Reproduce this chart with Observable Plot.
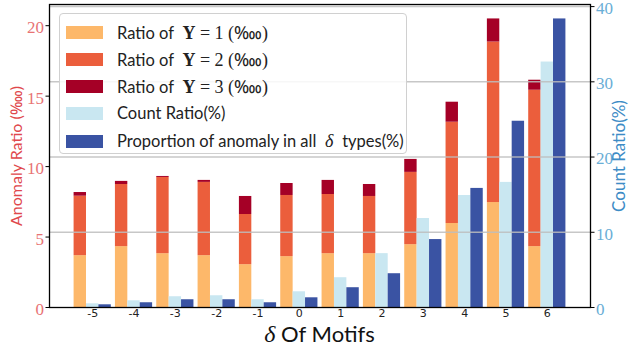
<!DOCTYPE html>
<html>
<head>
<meta charset="utf-8">
<script src="https://cdn.jsdelivr.net/npm/d3@7"></script>
<script src="https://cdn.jsdelivr.net/npm/@observablehq/plot@0.6"></script>
<style>
  body { margin: 0; background: #fff; }
  #wrap { position: relative; width: 629px; height: 347px; }
  #legend {
    position: absolute; left: 59px; top: 13px; width: 348px; height: 141px;
    border: 1px solid #d0d0d0; border-radius: 4px; background: rgba(255,255,255,0.85);
    box-sizing: border-box; font-family: Lato, sans-serif; font-size: 16.5px; color: #222;
  }
  .row { position: absolute; left: 6px; height: 20px; display: flex; align-items: center; white-space: nowrap; }
  .sw { width: 37px; height: 13px; margin-right: 14px; }
  .m { font-family: "Liberation Serif", serif; font-size: 18px; }
  .mb { font-family: "Liberation Serif", serif; font-weight: bold; font-size: 18px; }
  .mi { font-family: "Liberation Serif", serif; font-style: italic; font-size: 18px; }
</style>
</head>
<body>
<div id="wrap"></div>
<script>
// ---- data ----
const deltas = [-5, -4, -3, -2, -1, 0, 1, 2, 3, 4, 5, 6];
const ratioY1 = [3.68, 4.32, 3.82, 3.68, 3.04, 3.61, 3.82, 3.82, 4.46, 5.96, 7.45, 4.32];
const ratioY2 = [4.22, 4.41, 5.41, 5.20, 3.56, 4.34, 4.20, 4.06, 5.13, 7.19, 11.39, 11.10];
const ratioY3 = [0.26, 0.22, 0.07, 0.14, 1.28, 0.85, 1.00, 0.85, 0.92, 1.42, 1.64, 0.71];
const countRatio = [0.49, 0.89, 1.43, 1.56, 1.03, 2.09, 3.96, 7.16, 11.83, 14.89, 16.63, 32.63];
const anomalyProportion = [0.36, 0.63, 1.03, 1.03, 0.63, 1.29, 2.63, 4.49, 9.03, 15.83, 24.76, 38.36];
const leftTicks = [0, 5, 10, 15, 20];
const rightTicks = [0, 10, 20, 30, 40];
const seriesNames = ["Ratio of Y = 1 (‱)", "Ratio of Y = 2 (‱)", "Ratio of Y = 3 (‱)", "Count Ratio(%)", "Proportion of anomaly in all δ types(%)"];
const colors = ["#fdb86a", "#eb5e3c", "#a50026", "#c9e7f1", "#3a53a3"];

// ---- derived tables ----
const stackRows = [];
deltas.forEach((d, i) => {
  let lo = 0;
  [ratioY1[i], ratioY2[i], ratioY3[i]].forEach((v, s) => {
    stackRows.push({d, lo, hi: lo + v, s});
    lo += v;
  });
});
const leftMax = d3.max(stackRows, r => r.hi) * 1.05;
const rightMax = d3.max([...countRatio, ...anomalyProportion]) * 1.05;
const k = leftMax / rightMax;
const countRows = deltas.map((d, i) => ({d, v: countRatio[i] * k}));
const propRows = deltas.map((d, i) => ({d, v: anomalyProportion[i] * k}));
const xMin = deltas[0] - 0.45, xMax = deltas[deltas.length - 1] + 0.45;
const xPad = (xMax - xMin) * 0.05;
const W = 0.3;

const leftTickColor = "#e87374", leftLabelColor = "#e0484c";
const rightTickColor = "#6aaed6", rightLabelColor = "#3d8cc6";

const chart = Plot.plot({
  width: 629, height: 347,
  marginLeft: 49, marginRight: 39, marginTop: 4, marginBottom: 40,
  x: {type: "linear", domain: [xMin - xPad, xMax + xPad]},
  y: {domain: [0, leftMax]},
  style: {background: "transparent", overflow: "visible"},
  marks: [
    Plot.rect(stackRows, {x1: r => r.d - 1.5 * W, x2: r => r.d - 0.5 * W, y1: "lo", y2: "hi", fill: r => colors[r.s]}),
    Plot.rect(countRows, {x1: r => r.d - 0.5 * W, x2: r => r.d + 0.5 * W, y1: 0, y2: "v", fill: colors[3]}),
    Plot.rect(propRows, {x1: r => r.d + 0.5 * W, x2: r => r.d + 1.5 * W, y1: 0, y2: "v", fill: colors[4]}),
    Plot.gridY(rightTicks.slice(1).map(v => v * k), {stroke: "#bdbdbd", strokeOpacity: 0.85, strokeWidth: 1.5}),
    Plot.frame({stroke: "#000", strokeWidth: 1.3}),
    Plot.axisY(leftTicks, {anchor: "left", tickSize: 3.5, tickPadding: 2, color: leftTickColor,
      fontFamily: "Liberation Serif, serif", fontSize: 17, label: null, stroke: "#000"}),
    Plot.axisY(rightTicks.map(v => v * k), {anchor: "right", tickSize: 3.5, tickPadding: 2, color: rightTickColor,
      tickFormat: v => String(Math.round(v / k)), fontFamily: "Liberation Serif, serif", fontSize: 17, label: null, stroke: "#000"}),
    Plot.axisX(deltas, {anchor: "bottom", tickSize: 0, tickPadding: 2, tickFormat: d => String(d),
      fontFamily: "DejaVu Sans, sans-serif", fontSize: 11, fill: "#222", label: null}),
    Plot.text(["Anomaly Ratio (‱)"], {frameAnchor: "left", textAnchor: "middle", dx: -33, dy: 0, rotate: -90, fill: leftLabelColor,
      fontFamily: "Lato, sans-serif", fontSize: 16}),
    Plot.text(["Count Ratio(%)"], {frameAnchor: "right", textAnchor: "middle", dx: 29, rotate: -90, fill: rightLabelColor,
      fontFamily: "Lato, sans-serif", fontSize: 17})
  ]
});
const wrap = document.getElementById("wrap");
wrap.appendChild(chart);

// serif numerals for the y tick labels, nudged slightly down as in the reference
d3.select(chart).selectAll('g[aria-label="y-axis tick label"]')
  .style("font-family", "'Liberation Serif', serif").style("font-size", "17px")
  .each(function() {
    const t = this.getAttribute("transform") || "";
    this.setAttribute("transform", (t + " translate(0,2)").trim());
  });
d3.select(chart).selectAll('g[aria-label="y-axis tick label"] text')
  .style("font-family", "'Liberation Serif', serif").style("font-size", "17px");

// x axis title as real text
const xl = document.createElement("div");
xl.style.cssText = "position:absolute;left:0;width:629px;top:323px;line-height:21px;text-align:center;font-family:Lato,sans-serif;font-size:22px;color:#111;padding-left:10px;box-sizing:border-box";
xl.innerHTML = '<span style="font-family:\'Liberation Serif\',serif;font-style:italic;font-size:24px">δ</span> Of Motifs';
wrap.appendChild(xl);

// legend
const legend = document.createElement("div");
legend.id = "legend";
const rowTops = [8, 35, 62, 89, 117];
const labelsHtml = [
  'Ratio of <span class="mb">&nbsp;Y</span><span class="m">&nbsp;=&nbsp;1 (‱)</span>',
  'Ratio of <span class="mb">&nbsp;Y</span><span class="m">&nbsp;=&nbsp;2 (‱)</span>',
  'Ratio of <span class="mb">&nbsp;Y</span><span class="m">&nbsp;=&nbsp;3 (‱)</span>',
  'Count Ratio(%)',
  'Proportion of anomaly in all <span class="mi">&nbsp;δ&nbsp;</span> types(%)'
];
seriesNames.forEach((name, i) => {
  const row = document.createElement("div");
  row.className = "row";
  row.style.top = rowTops[i] + "px";
  row.title = name;
  row.innerHTML = `<div class="sw" style="background:${colors[i]}"></div><span>${labelsHtml[i]}</span>`;
  legend.appendChild(row);
});
wrap.appendChild(legend);
</script>
</body>
</html>
